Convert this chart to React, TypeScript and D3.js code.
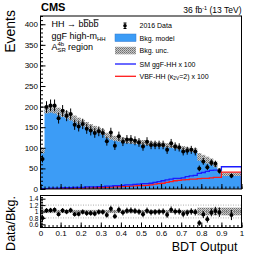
import React, { useEffect, useRef } from "react";
import * as d3 from "d3";

// 45 bins of 0.02 from 0 to 0.9, then one wide bin 0.9 - 1.0
const binEdges: number[] = d3.range(46).map((i) => +(i * 0.02).toFixed(2)).concat([1]);

const dataCounts = [73, 199, 203, 203, 172, 190, 178, 182, 156, 152, 158, 146, 142, 136, 140, 136, 116, 137, 105, 128, 115, 120, 120, 117, 113, 103, 115, 107, 107, 107, 107, 95, 111, 103, 101, 91, 93, 95, 91, 50, 67, 53, 64, 61, 44, 32];
const bkgModel = [92, 193, 195, 193, 188, 184, 180, 175, 170, 165, 160, 155, 150, 146, 142, 138, 130, 126, 123, 121, 119, 117, 116, 115, 114, 113, 112, 110, 109, 108, 107, 106, 105, 103, 101, 99, 97, 95, 93, 78, 74, 70, 66, 60, 45, 36];
const bkgRelUnc = [0.06, 0.05, 0.05, 0.05, 0.05, 0.05, 0.05, 0.05, 0.05, 0.05, 0.05, 0.05, 0.05, 0.05, 0.05, 0.05, 0.05, 0.05, 0.05, 0.05, 0.05, 0.05, 0.05, 0.05, 0.05, 0.05, 0.05, 0.05, 0.05, 0.05, 0.05, 0.05, 0.05, 0.05, 0.05, 0.05, 0.05, 0.05, 0.06, 0.12, 0.12, 0.12, 0.12, 0.12, 0.12, 0.12];
const smGgf = [1, 1, 2, 2, 2, 3, 3, 3, 4, 4, 4, 5, 5, 5, 6, 6, 7, 7, 8, 8, 9, 10, 10, 11, 12, 13, 13, 14, 16, 18, 20, 22, 24, 26, 26, 27, 30, 32, 33, 38, 40, 43, 45, 46, 46, 54];
const vbfHH = [0.5, 0.5, 1, 1, 1, 1, 1.5, 1.5, 2, 2, 2, 2.5, 2.5, 3, 3, 3.5, 4, 4.5, 5, 5.5, 6, 6.5, 7, 7.5, 8, 8.5, 9, 10, 12, 13, 14, 16, 18, 20, 21, 22, 23, 24, 24, 25, 26, 26, 27, 28, 28, 41];

const yMainTicks = [0, 50, 100, 150, 200, 250, 300, 350, 400];
const yRatioTicks = [0.6, 0.8, 1, 1.2, 1.4];
const xTicks = [0, 0.1, 0.2, 0.3, 0.4, 0.5, 0.6, 0.7, 0.8, 0.9, 1];

const W = 269, H = 258;
const FONT = "Liberation Sans, Arial, Helvetica, sans-serif";
const BLUE_FILL = "#3c9cf6";

const App = () => {
  const ref = useRef<SVGSVGElement>(null);

  useEffect(() => {
    const svg = d3.select(ref.current);
    svg.selectAll("*").remove();

    const left = 40.5, right = 241.5;
    const x = d3.scaleLinear().domain([0, 1]).range([left, right]);
    const y = d3.scaleLinear().domain([0, 420]).range([189, 16]);
    const yr = d3.scaleLinear().domain([0.5, 1.5]).range([227.5, 195.5]);

    // hatch pattern for the uncertainty band
    const defs = svg.append("defs");
    const pat = defs
      .append("pattern")
      .attr("id", "hatch")
      .attr("patternUnits", "userSpaceOnUse")
      .attr("width", 2)
      .attr("height", 2);
    pat.append("rect").attr("x", 0).attr("y", 0).attr("width", 2).attr("height", 2).attr("fill", "#c8c8c8");
    pat.append("rect").attr("x", 0).attr("y", 0).attr("width", 1).attr("height", 1).attr("fill", "#6e6e6e");
    pat.append("rect").attr("x", 1).attr("y", 1).attr("width", 1).attr("height", 1).attr("fill", "#8a8a8a");
    defs.append("clipPath").attr("id", "clipMain").append("rect")
      .attr("x", left).attr("y", 16).attr("width", right - left).attr("height", 173);
    defs.append("clipPath").attr("id", "clipRatio").append("rect")
      .attr("x", left).attr("y", 195.5).attr("width", right - left).attr("height", 32);

    const nb = dataCounts.length;
    const centers = d3.range(nb).map((i) => (binEdges[i] + binEdges[i + 1]) / 2);
    const stepPts = (vals: number[]) => {
      const pts = vals.map((v, i) => [binEdges[i], v] as [number, number]);
      pts.push([binEdges[nb], vals[nb - 1]]);
      return pts;
    };

    const main = svg.append("g").attr("clip-path", "url(#clipMain)");

    // background model
    const area = d3.area<[number, number]>()
      .x((d) => x(d[0]))
      .y0(y(0))
      .y1((d) => y(d[1]))
      .curve(d3.curveStepAfter);
    main.append("path").datum(stepPts(bkgModel)).attr("d", area).attr("fill", BLUE_FILL);

    // uncertainty band
    const band = (vals: number[], sy: d3.ScaleLinear<number, number>, rel: boolean) =>
      d3.range(nb).map((i) => {
        const c = rel ? 1 : vals[i];
        const u = rel ? bkgRelUnc[i] : vals[i] * bkgRelUnc[i];
        return { x0: x(binEdges[i]), x1: x(binEdges[i + 1]), y0: sy(c + u), y1: sy(c - u) };
      });
    main.selectAll("rect.unc")
      .data(band(bkgModel, y, false))
      .enter()
      .append("rect")
      .attr("class", "unc")
      .attr("x", (d) => d.x0)
      .attr("width", (d) => d.x1 - d.x0)
      .attr("y", (d) => d.y0)
      .attr("height", (d) => d.y1 - d.y0)
      .attr("fill", "url(#hatch)");

    // signals
    const line = d3.line<[number, number]>()
      .x((d) => x(d[0]))
      .y((d) => y(d[1]))
      .curve(d3.curveStepAfter);
    const withEnds = (vals: number[]) => {
      const p = stepPts(vals);
      return [[0, 0] as [number, number], ...p, [1, 0] as [number, number]];
    };
    main.append("path").datum(withEnds(vbfHH)).attr("d", line)
      .attr("fill", "none").attr("stroke", "#ff1a1a").attr("stroke-width", 1.3);
    main.append("path").datum(withEnds(smGgf)).attr("d", line)
      .attr("fill", "none").attr("stroke", "#1a1aff").attr("stroke-width", 1.3);

    // data points
    const pts = main.selectAll("g.pt").data(d3.range(nb)).enter().append("g");
    pts.append("line")
      .attr("x1", (i) => x(centers[i])).attr("x2", (i) => x(centers[i]))
      .attr("y1", (i) => y(dataCounts[i] + Math.sqrt(dataCounts[i])))
      .attr("y2", (i) => y(dataCounts[i] - Math.sqrt(dataCounts[i])))
      .attr("stroke", "#000").attr("stroke-width", 1);
    pts.append("circle")
      .attr("cx", (i) => x(centers[i])).attr("cy", (i) => y(dataCounts[i]))
      .attr("r", 2).attr("fill", "#000");

    // ratio panel
    const rat = svg.append("g").attr("clip-path", "url(#clipRatio)");
    [0.8, 1.2].forEach((v) => {
      rat.append("line").attr("x1", left).attr("x2", right).attr("y1", yr(v)).attr("y2", yr(v))
        .attr("stroke", "#999").attr("stroke-dasharray", "1,1.5").attr("stroke-width", 0.8);
    });
    rat.selectAll("rect.unc")
      .data(band(bkgModel, yr, true))
      .enter()
      .append("rect")
      .attr("x", (d) => d.x0)
      .attr("width", (d) => d.x1 - d.x0)
      .attr("y", (d) => d.y0)
      .attr("height", (d) => d.y1 - d.y0)
      .attr("fill", "url(#hatch)");
    rat.append("line").attr("x1", left).attr("x2", right).attr("y1", yr(1)).attr("y2", yr(1))
      .attr("stroke", "#777").attr("stroke-dasharray", "2,1.5").attr("stroke-width", 0.7);
    const rp = rat.selectAll("g.rp").data(d3.range(nb)).enter().append("g");
    const ratio = (i: number) => dataCounts[i] / bkgModel[i];
    const rerr = (i: number) => Math.sqrt(dataCounts[i]) / bkgModel[i];
    rp.append("line")
      .attr("x1", (i) => x(centers[i])).attr("x2", (i) => x(centers[i]))
      .attr("y1", (i) => yr(ratio(i) + rerr(i)))
      .attr("y2", (i) => yr(ratio(i) - rerr(i)))
      .attr("stroke", "#000").attr("stroke-width", 1);
    rp.append("circle")
      .attr("cx", (i) => x(centers[i])).attr("cy", (i) => yr(ratio(i)))
      .attr("r", 2).attr("fill", "#000");

    // frames
    svg.append("rect").attr("x", left).attr("y", 16).attr("width", right - left).attr("height", 173)
      .attr("fill", "none").attr("stroke", "#000").attr("stroke-width", 1);
    svg.append("rect").attr("x", left).attr("y", 195.5).attr("width", right - left).attr("height", 32)
      .attr("fill", "none").attr("stroke", "#000").attr("stroke-width", 1);

    // axes (ticks inward)
    const styleAxis = (size: number) => (g: d3.Selection<SVGGElement, unknown, null, undefined>) => {
      g.select(".domain").remove();
      g.selectAll("text").attr("font-family", FONT).attr("font-size", size).attr("fill", "#000");
    };
    const minorX = d3.range(51).map((i) => +(i * 0.02).toFixed(2));
    const addX = (yPos: number, labels: boolean) => {
      svg.append("g").attr("transform", `translate(0,${yPos})`)
        .call(d3.axisBottom(x).tickValues(minorX).tickSize(-2.5).tickFormat(() => ""))
        .call(styleAxis(8));
      svg.append("g").attr("transform", `translate(0,${yPos})`)
        .call(d3.axisBottom(x).tickValues(xTicks).tickSize(-5).tickPadding(3)
          .tickFormat((d) => (labels ? d3.format("")(+d) : "")))
        .call(styleAxis(8));
    };
    addX(189, false);
    addX(227.5, true);

    svg.append("g").attr("transform", `translate(${left},0)`)
      .call(d3.axisLeft(y).tickValues(d3.range(0, 421, 10)).tickSize(-2.5).tickFormat(() => ""))
      .call(styleAxis(8));
    svg.append("g").attr("transform", `translate(${left},0)`)
      .call(d3.axisLeft(y).tickValues(yMainTicks).tickSize(-5).tickPadding(2.5))
      .call(styleAxis(8));
    svg.append("g").attr("transform", `translate(${left},0)`)
      .call(d3.axisLeft(yr).tickValues(d3.range(0.55, 1.5, 0.05)).tickSize(-2.5).tickFormat(() => ""))
      .call(styleAxis(7));
    svg.append("g").attr("transform", `translate(${left},0)`)
      .call(d3.axisLeft(yr).tickValues(yRatioTicks).tickSize(-5).tickPadding(2).tickFormat((d) => d3.format("")(+d)))
      .call(styleAxis(6.6));

    // titles
    const txt = (xx: number, yy: number, s: string, size: number, opts: any = {}) =>
      svg.append("text").attr("x", xx).attr("y", yy).attr("font-family", FONT)
        .attr("font-size", size).attr("fill", "#000")
        .attr("text-anchor", opts.anchor || "start")
        .attr("font-weight", opts.bold ? "bold" : "normal")
        .attr("transform", opts.rot ? `rotate(-90,${xx},${yy})` : null)
        .text(s);

    txt(15, 10, "Events", 14, { anchor: "end", rot: true });
    txt(15, 196, "Data/Bkg.", 12.5, { anchor: "end", rot: true });
    txt(237.5, 250.5, "BDT Output", 12.5, { anchor: "end" });
    txt(41, 11, "CMS", 11, { bold: true });

    const lumi = svg.append("text").attr("x", 241.5).attr("y", 13).attr("text-anchor", "end")
      .attr("font-family", FONT).attr("font-size", 8.5).attr("fill", "#000");
    lumi.append("tspan").text("36 fb");
    lumi.append("tspan").attr("font-size", 5.5).attr("dy", -3).text("-1");
    lumi.append("tspan").attr("dy", 3).text(" (13 TeV)");

    // process text
    const hh = svg.append("text").attr("x", 51.5).attr("y", 27.3).attr("font-family", FONT)
      .attr("font-size", 9).attr("fill", "#000");
    hh.append("tspan").text("HH \u2192 b");
    hh.append("tspan").attr("text-decoration", "overline").text("b");
    hh.append("tspan").text("b");
    hh.append("tspan").attr("text-decoration", "overline").text("b");

    const gg = svg.append("text").attr("x", 51.5).attr("y", 38.5).attr("font-family", FONT)
      .attr("font-size", 9).attr("fill", "#000");
    gg.append("tspan").text("ggF high-m");
    gg.append("tspan").attr("font-size", 6).attr("dy", 2).text("HH");

    txt(51.5, 50, "A", 9);
    txt(57.5, 45.5, "4b", 6);
    txt(57.5, 52, "SR", 6);
    txt(68, 50, "region", 9);

    // legend
    const lx = 139.5;
    const lg = svg.append("g");
    lg.append("line").attr("x1", 125).attr("x2", 125).attr("y1", 23).attr("y2", 28.5).attr("stroke", "#000");
    lg.append("line").attr("x1", 123.5).attr("x2", 126.5).attr("y1", 23).attr("y2", 23).attr("stroke", "#000");
    lg.append("line").attr("x1", 123.5).attr("x2", 126.5).attr("y1", 28.5).attr("y2", 28.5).attr("stroke", "#000");
    lg.append("circle").attr("cx", 125).attr("cy", 25.7).attr("r", 1.8).attr("fill", "#000");
    lg.append("rect").attr("x", 115).attr("y", 34).attr("width", 21).attr("height", 7.5).attr("fill", BLUE_FILL)
      .attr("stroke", "#3377cc").attr("stroke-width", 0.5);
    lg.append("rect").attr("x", 115).attr("y", 46.8).attr("width", 21).attr("height", 7.5).attr("fill", "url(#hatch)");
    lg.append("line").attr("x1", 115).attr("x2", 136).attr("y1", 64).attr("y2", 64).attr("stroke", "#1a1aff").attr("stroke-width", 1.3);
    lg.append("line").attr("x1", 115).attr("x2", 136).attr("y1", 76.3).attr("y2", 76.3).attr("stroke", "#ff1a1a").attr("stroke-width", 1.3);

    const lt = (yy: number) => svg.append("text").attr("x", lx).attr("y", yy).attr("font-family", FONT)
      .attr("font-size", 7).attr("fill", "#000");
    lt(28.2).text("2016 Data");
    lt(40.6).text("Bkg. model");
    lt(53.2).text("Bkg. unc.");
    lt(66.5).text("SM ggF-HH x 100");
    const vb = lt(78.8);
    vb.append("tspan").text("VBF-HH (\u03ba");
    vb.append("tspan").attr("font-size", 4.8).attr("dy", 1.5).text("2V");
    vb.append("tspan").attr("dy", -1.5).text("=2) x 100");
  }, []);

  return (
    <svg
      ref={ref}
      width={W}
      height={H}
      style={{ position: "absolute", left: 0, top: 0, background: "#fff" }}
    />
  );
};

export default App;
